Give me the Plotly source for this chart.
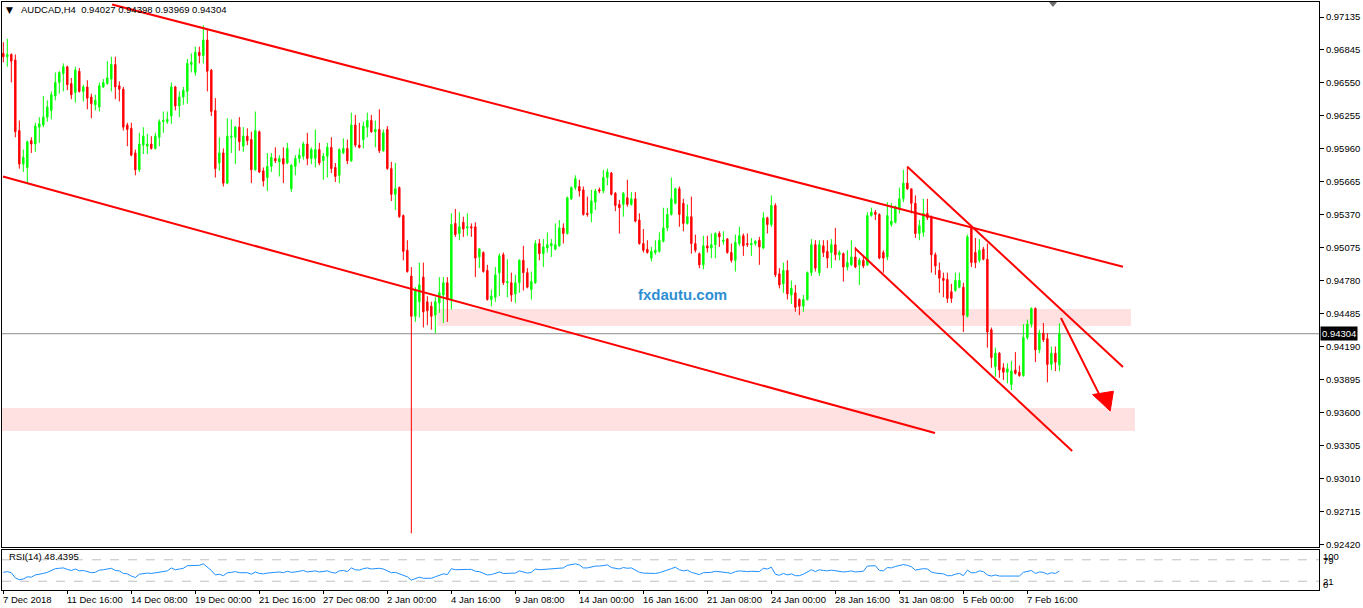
import plotly.graph_objects as go

# ---------------- data (prices in 1e-4 units) ----------------
OPEN = [
 9681, 9678, 9680, 9675, 9612, 9582, 9579, 9603, 9600, 9615,
 9617, 9624, 9630, 9643, 9655, 9663, 9669, 9654, 9646, 9665,
 9647, 9651, 9642, 9635, 9633, 9651, 9654, 9658, 9671, 9652,
 9649, 9617, 9614, 9592, 9577, 9599, 9598, 9600, 9596, 9606,
 9620, 9620, 9625, 9651, 9634, 9642, 9647, 9671, 9664, 9682,
 9679, 9693, 9666, 9630, 9583, 9592, 9565, 9606, 9606, 9615,
 9598, 9607, 9604, 9577, 9611, 9576, 9570, 9580, 9587, 9584,
 9587, 9583, 9560, 9580, 9587, 9589, 9600, 9587, 9587, 9595,
 9585, 9589, 9597, 9579, 9572, 9592, 9596, 9585, 9617, 9599,
 9604, 9615, 9621, 9611, 9613, 9594, 9613, 9578, 9555, 9561,
 9536, 9505, 9482, 9446, 9459, 9481, 9459, 9455, 9447, 9458,
 9465, 9476, 9461, 9529, 9520, 9530, 9525, 9526, 9526, 9499,
 9503, 9487, 9461, 9463, 9485, 9501, 9476, 9476, 9466, 9476,
 9496, 9485, 9470, 9476, 9511, 9502, 9507, 9509, 9506, 9509,
 9525, 9520, 9551, 9561, 9562, 9559, 9538, 9538, 9548, 9559,
 9558, 9570, 9574, 9556, 9546, 9546, 9552, 9546, 9551, 9532,
 9511, 9506, 9498, 9503, 9504, 9513, 9525, 9537, 9547, 9560,
 9547, 9529, 9535, 9511, 9502, 9492, 9509, 9507, 9510, 9520,
 9513, 9515, 9503, 9496, 9511, 9518, 9511, 9510, 9511, 9514,
 9507, 9534, 9528, 9545, 9484, 9475, 9487, 9465, 9467, 9461,
 9455, 9461, 9485, 9510, 9485, 9509, 9504, 9503, 9510, 9501,
 9502, 9490, 9492, 9499, 9492, 9496, 9492, 9536, 9539, 9537,
 9503, 9499, 9528, 9530, 9542, 9551, 9565, 9560, 9547, 9520,
 9521, 9538, 9535, 9501, 9487, 9480, 9479, 9468, 9469, 9472,
 9472, 9446, 9525, 9503, 9496, 9506, 9497, 9434, 9401, 9413,
 9400, 9396, 9385, 9398, 9396, 9393, 9427, 9439, 9453, 9416,
 9431, 9426, 9403, 9413, 9402.7]
HIGH = [
 9691, 9694, 9681, 9680, 9621, 9595, 9603, 9606, 9619, 9624,
 9643, 9639, 9647, 9664, 9665, 9672, 9670, 9659, 9669, 9668,
 9653, 9657, 9645, 9644, 9655, 9658, 9674, 9678, 9678, 9656,
 9651, 9619, 9619, 9595, 9610, 9615, 9609, 9607, 9610, 9622,
 9629, 9629, 9655, 9652, 9647, 9651, 9676, 9681, 9687, 9687,
 9706, 9702, 9667, 9641, 9606, 9596, 9623, 9622, 9616, 9624,
 9615, 9614, 9611, 9629, 9612, 9579, 9592, 9592, 9597, 9590,
 9597, 9601, 9582, 9590, 9596, 9602, 9610, 9597, 9613, 9601,
 9592, 9601, 9606, 9583, 9596, 9605, 9604, 9628, 9626, 9619,
 9620, 9628, 9626, 9621, 9631, 9613, 9616, 9584, 9583, 9562,
 9537, 9514, 9490, 9472, 9494, 9494, 9464, 9459, 9463, 9481,
 9481, 9481, 9538, 9542, 9539, 9535, 9538, 9529, 9530, 9507,
 9504, 9492, 9470, 9490, 9502, 9503, 9497, 9485, 9483, 9497,
 9509, 9489, 9486, 9514, 9515, 9515, 9521, 9515, 9529, 9532,
 9529, 9553, 9562, 9572, 9568, 9562, 9553, 9559, 9560, 9561,
 9577, 9578, 9575, 9557, 9550, 9557, 9568, 9557, 9557, 9538,
 9524, 9514, 9508, 9514, 9521, 9543, 9543, 9570, 9561, 9562,
 9551, 9546, 9553, 9519, 9503, 9518, 9518, 9520, 9521, 9522,
 9522, 9516, 9511, 9519, 9526, 9520, 9520, 9516, 9514, 9517,
 9539, 9535, 9554, 9547, 9489, 9494, 9496, 9478, 9474, 9462,
 9465, 9486, 9515, 9514, 9514, 9514, 9514, 9515, 9525, 9505,
 9503, 9505, 9514, 9508, 9498, 9500, 9539, 9543, 9541, 9538,
 9505, 9548, 9547, 9545, 9561, 9577, 9580, 9560, 9554, 9532,
 9551, 9551, 9536, 9503, 9494, 9485, 9485, 9475, 9485, 9485,
 9476, 9519, 9526, 9516, 9515, 9508, 9511, 9436, 9418, 9414,
 9404, 9404, 9406, 9414, 9402, 9439, 9443, 9454, 9454, 9434,
 9440, 9431, 9419, 9419, 9439.8]
LOW = [
 9673, 9669, 9655, 9606, 9578, 9575, 9565, 9592, 9593, 9601,
 9615, 9620, 9622, 9639, 9645, 9647, 9648, 9640, 9637, 9646,
 9638, 9631, 9623, 9630, 9629, 9650, 9653, 9647, 9640, 9638,
 9612, 9598, 9589, 9572, 9575, 9591, 9591, 9595, 9595, 9598,
 9610, 9618, 9618, 9630, 9624, 9635, 9636, 9664, 9661, 9672,
 9672, 9647, 9625, 9570, 9576, 9562, 9564, 9592, 9582, 9594,
 9593, 9599, 9565, 9576, 9574, 9562, 9558, 9575, 9583, 9571,
 9565, 9582, 9557, 9572, 9583, 9586, 9581, 9582, 9579, 9581,
 9568, 9570, 9574, 9566, 9565, 9591, 9582, 9584, 9597, 9596,
 9596, 9606, 9610, 9597, 9592, 9593, 9577, 9549, 9541, 9534,
 9496, 9485, 9252, 9441, 9445, 9436, 9438, 9434, 9431, 9449,
 9440, 9441, 9452, 9517, 9514, 9517, 9518, 9517, 9481, 9489,
 9485, 9460, 9455, 9459, 9464, 9474, 9463, 9459, 9458, 9467,
 9469, 9471, 9461, 9475, 9496, 9490, 9503, 9499, 9505, 9508,
 9511, 9519, 9550, 9559, 9553, 9536, 9535, 9530, 9541, 9556,
 9556, 9563, 9554, 9540, 9520, 9535, 9544, 9545, 9530, 9510,
 9503, 9502, 9495, 9501, 9503, 9512, 9522, 9536, 9546, 9526,
 9522, 9528, 9502, 9503, 9489, 9488, 9503, 9498, 9498, 9508,
 9510, 9502, 9494, 9486, 9509, 9500, 9508, 9500, 9509, 9492,
 9506, 9520, 9526, 9481, 9471, 9467, 9461, 9457, 9450, 9447,
 9450, 9460, 9482, 9486, 9482, 9499, 9489, 9489, 9496, 9496,
 9477, 9487, 9491, 9489, 9474, 9489, 9491, 9535, 9532, 9497,
 9485, 9496, 9526, 9529, 9538, 9548, 9559, 9538, 9516, 9514,
 9517, 9532, 9485, 9483, 9467, 9463, 9458, 9458, 9468, 9471,
 9432, 9445, 9490, 9489, 9494, 9496, 9418, 9400, 9392, 9391,
 9389, 9386, 9380, 9394, 9392, 9392, 9425, 9436, 9405, 9413,
 9423, 9387, 9398, 9397, 9396.9]
CLOSE = [
 9678, 9680, 9674, 9611, 9582, 9588, 9602, 9600, 9616, 9618,
 9624, 9633, 9644, 9655, 9664, 9669, 9653, 9644, 9666, 9647,
 9651, 9641, 9636, 9639, 9652, 9655, 9659, 9671, 9651, 9649,
 9615, 9613, 9590, 9577, 9600, 9607, 9600, 9596, 9607, 9620,
 9621, 9622, 9651, 9634, 9642, 9648, 9672, 9673, 9682, 9679,
 9693, 9665, 9629, 9578, 9592, 9565, 9607, 9607, 9615, 9602,
 9607, 9603, 9577, 9612, 9575, 9567, 9580, 9588, 9585, 9587,
 9582, 9596, 9581, 9587, 9590, 9600, 9587, 9595, 9595, 9583,
 9589, 9597, 9578, 9571, 9595, 9596, 9585, 9617, 9599, 9597,
 9616, 9621, 9611, 9613, 9594, 9610, 9578, 9555, 9560, 9535,
 9504, 9486, 9446, 9470, 9474, 9450, 9451, 9446, 9459, 9467,
 9476, 9461, 9528, 9519, 9526, 9524, 9526, 9525, 9498, 9506,
 9486, 9461, 9464, 9483, 9500, 9476, 9477, 9465, 9476, 9496,
 9485, 9472, 9477, 9511, 9502, 9508, 9510, 9511, 9510, 9525,
 9520, 9552, 9561, 9569, 9558, 9537, 9537, 9549, 9558, 9558,
 9570, 9575, 9555, 9545, 9543, 9556, 9546, 9551, 9531, 9511,
 9505, 9503, 9504, 9505, 9514, 9525, 9537, 9551, 9560, 9537,
 9529, 9535, 9511, 9505, 9492, 9509, 9507, 9510, 9520, 9517,
 9514, 9503, 9496, 9512, 9518, 9509, 9510, 9511, 9513, 9508,
 9534, 9528, 9545, 9483, 9474, 9487, 9466, 9471, 9454, 9455,
 9461, 9485, 9510, 9489, 9510, 9503, 9498, 9510, 9501, 9503,
 9490, 9494, 9499, 9490, 9496, 9491, 9536, 9539, 9537, 9498,
 9498, 9536, 9531, 9544, 9551, 9565, 9560, 9547, 9520, 9527,
 9538, 9534, 9501, 9491, 9480, 9478, 9462, 9462, 9478, 9478,
 9447, 9517, 9494, 9494, 9505, 9497, 9432, 9409, 9413, 9398,
 9396, 9399, 9397, 9395, 9393, 9427, 9439, 9453, 9416, 9431,
 9425, 9403, 9413, 9405, 9430.4]
RSI = [
 45, 47, 44, 30, 25, 27, 33, 32, 38, 39,
 42, 45, 50, 55, 56, 57, 53, 50, 54, 49,
 50, 46, 44, 45, 51, 52, 54, 56, 50, 49,
 42, 41, 35, 31, 40, 42, 43, 42, 44, 47,
 48, 49, 57, 52, 54, 56, 63, 64, 65, 64,
 68, 60, 50, 38, 40, 36, 44, 45, 47, 44,
 45, 44, 40, 46, 42, 41, 43, 45, 45, 46,
 44, 48, 45, 46, 47, 50, 46, 48, 49, 46,
 47, 49, 45, 43, 49, 50, 47, 57, 52, 51,
 55, 57, 54, 55, 56, 54, 48, 44, 45, 41,
 36, 33, 24, 28, 32, 29, 30, 29, 33, 38,
 41, 39, 55, 52, 53, 52, 53, 53, 48, 47,
 42, 38, 39, 43, 46, 42, 42, 41, 43, 49,
 46, 43, 45, 54, 52, 53, 54, 55, 55, 58,
 57, 64, 66, 68, 65, 57, 57, 60, 62, 62,
 64, 65, 58, 55, 54, 58, 56, 57, 52, 45,
 43, 42, 41, 42, 44, 47, 50, 55, 59, 52,
 49, 51, 45, 42, 39, 44, 44, 45, 48, 47,
 47, 44, 42, 47, 49, 47, 47, 48, 48, 47,
 56, 54, 59, 40, 37, 42, 38, 41, 36, 36,
 40, 46, 52, 47, 52, 50, 49, 51, 49, 49,
 46, 47, 49, 46, 48, 48, 62, 63, 63, 50,
 49, 58, 57, 61, 63, 66, 64, 60, 51, 53,
 55, 54, 46, 43, 41, 41, 36, 36, 40, 42,
 36, 51, 44, 44, 49, 47, 38, 35, 38, 35,
 35, 35, 37, 35, 35, 45, 48, 50, 42, 46,
 45, 40, 44, 42, 48.4395]
DATE_LABELS = ["7 Dec 2018", "11 Dec 16:00", "14 Dec 08:00", "19 Dec 00:00",
               "21 Dec 16:00", "27 Dec 08:00", "2 Jan 00:00", "4 Jan 16:00",
               "9 Jan 08:00", "14 Jan 00:00", "16 Jan 16:00", "21 Jan 08:00",
               "24 Jan 00:00", "28 Jan 16:00", "31 Jan 08:00", "5 Feb 00:00",
               "7 Feb 16:00"]
DATE_STEP = 16
PRICE_TICKS = [0.97135, 0.96845, 0.96550, 0.96255, 0.95960, 0.95665, 0.95370,
               0.95075, 0.94780, 0.94485, 0.94190, 0.93895, 0.93600, 0.93305,
               0.93010, 0.92715, 0.92420]
RSI_LEVELS = [79, 21]
LAST_PRICE = 0.94304
SYMBOL = "AUDCAD,H4"
# drawing objects: (bar index, price)
TRENDLINES = [((27.2, 0.97246), (279.9, 0.94903)),
              ((-0.1, 0.95709), (232.9, 0.93417)),
              ((226.0, 0.95797), (279.9, 0.94007)),
              ((212.9, 0.95068), (267.2, 0.93256))]
ZONES = [((108.5, 0.94525), (281.9, 0.94373)),
         ((-0.3, 0.93640), (282.9, 0.93435))]
ARROW_LINE = ((264.4, 0.94445), (274.0, 0.93760))
ARROW_HEAD = [(272.3, 0.93760), (277.5, 0.93790), (276.7, 0.93613)]

SCALE = 10000.0
o = [v / SCALE for v in OPEN]
h = [v / SCALE for v in HIGH]
l = [v / SCALE for v in LOW]
c = [v / SCALE for v in CLOSE]
xs = list(range(len(OPEN)))

FONT = "Liberation Sans, Arial, sans-serif"
FS = 9.5
XR = [-0.33, 328.9]

fig = go.Figure()
fig.add_trace(go.Candlestick(
    x=xs, open=o, high=h, low=l, close=c, xaxis="x", yaxis="y",
    increasing=dict(line=dict(color="#00FF00", width=1), fillcolor="#00FF00"),
    decreasing=dict(line=dict(color="#FF0000", width=1), fillcolor="#FF0000"),
    whiskerwidth=0, hoverinfo="skip", showlegend=False))
fig.add_trace(go.Scatter(x=xs, y=RSI, mode="lines", xaxis="x2", yaxis="y2",
                         line=dict(color="#1E90FF", width=1), hoverinfo="skip",
                         showlegend=False))

shapes = []
for (a, b) in ZONES:
    shapes.append(dict(type="rect", xref="x", yref="y", x0=a[0], x1=b[0], y0=a[1], y1=b[1],
                       fillcolor="#FFE1E1", line=dict(width=0), layer="below"))
shapes.append(dict(type="line", xref="x domain", yref="y", x0=0, x1=1,
                   y0=LAST_PRICE, y1=LAST_PRICE, line=dict(color="#8C8C8C", width=1), layer="below"))
for (a, b) in TRENDLINES:
    shapes.append(dict(type="line", xref="x", yref="y", x0=a[0], y0=a[1], x1=b[0], y1=b[1],
                       line=dict(color="#FF0000", width=2), layer="above"))
shapes.append(dict(type="line", xref="x", yref="y", x0=ARROW_LINE[0][0], y0=ARROW_LINE[0][1],
                   x1=ARROW_LINE[1][0], y1=ARROW_LINE[1][1], line=dict(color="#FF0000", width=2)))
path = "M " + " L ".join(f"{px},{py}" for px, py in ARROW_HEAD) + " Z"
shapes.append(dict(type="path", xref="x", yref="y", path=path, fillcolor="#FF0000",
                   line=dict(color="#FF0000", width=1)))
for lv in RSI_LEVELS:
    shapes.append(dict(type="line", xref="x2 domain", yref="y2", x0=0, x1=1, y0=lv, y1=lv,
                       line=dict(color="#C0C0C0", width=1, dash="dash"), layer="below"))
# chart-shift marker at the top
shapes.append(dict(type="path", xref="paper", yref="paper",
                   path="M 0.7950,1.0 L 0.8011,1.0 L 0.7980,0.9915 Z",
                   fillcolor="#6E6E6E", line=dict(width=0)))

ann = []
ann.append(dict(xref="paper", yref="paper", x=0.0055, y=0.9860, text="▼", showarrow=False,
                font=dict(size=9, color="black", family="DejaVu Sans"), xanchor="center", yanchor="middle"))
title = SYMBOL + "\u00a0\u00a0" + " ".join(f"{v:.5f}" for v in (o[-1], h[-1], l[-1], c[-1]))
ann.append(dict(xref="paper", yref="paper", x=0.0129, y=0.9872, text=title, showarrow=False,
                font=dict(size=FS, color="black", family=FONT), xanchor="left", yanchor="middle"))
ann.append(dict(xref="x", yref="y", x=169.9, y=0.94659, text="<b>fxdautu.com</b>", showarrow=False,
                font=dict(size=15, color="#2E8FD3", family=FONT), xanchor="center", yanchor="middle"))
ann.append(dict(xref="paper", yref="y", x=1, y=LAST_PRICE, text=f"{LAST_PRICE:.5f}", showarrow=False,
                font=dict(size=FS, color="white", family=FONT), bgcolor="black", borderpad=1,
                xanchor="left", yanchor="middle", xshift=1))
ann.append(dict(xref="paper", yref="y2", x=0.0035, y=88, text=f"RSI(14) {RSI[-1]:.4f}", showarrow=False,
                font=dict(size=FS, color="black", family=FONT), xanchor="left", yanchor="middle"))
for txt, val in (("100", 89), ("79", 77.5), ("21", 21.6), ("0", 11)):
    ann.append(dict(xref="paper", yref="y2", x=1, y=val, text=txt, showarrow=False,
                    font=dict(size=FS, color="black", family=FONT), xanchor="left",
                    yanchor="middle", xshift=2))
tickpos = [i * DATE_STEP for i in range(len(DATE_LABELS))]
for pos, txt in zip(tickpos, DATE_LABELS):
    ann.append(dict(xref="x2", yref="paper", x=pos, y=0, text=txt, showarrow=False,
                    font=dict(size=FS, color="black", family=FONT), xanchor="left",
                    yanchor="top", xshift=-2, yshift=-2))

axis_common = dict(showgrid=False, zeroline=False, showline=True, linecolor="black",
                   linewidth=1, mirror=True)
fig.update_layout(
    width=1363, height=608, autosize=False,
    margin=dict(l=2, r=44, t=2, b=18, pad=0),
    paper_bgcolor="white", plot_bgcolor="white",
    font=dict(family=FONT, size=FS, color="black"),
    showlegend=False, boxgap=0.5, hovermode=False,
    xaxis=dict(domain=[0, 1], anchor="y", range=XR, showticklabels=False, ticks="",
               rangeslider=dict(visible=False), **axis_common),
    yaxis=dict(domain=[0.07313, 1], anchor="x", side="right", range=[0.923978, 0.972691],
               tickvals=PRICE_TICKS, ticktext=[f"{v:.5f}" for v in PRICE_TICKS],
               ticks="outside", ticklen=4, tickcolor="black",
               tickfont=dict(size=FS, color="black", family=FONT), **axis_common),
    xaxis2=dict(domain=[0, 1], anchor="y2", range=XR, matches="x", tickvals=tickpos,
                ticks="outside", ticklen=3, tickcolor="black", showticklabels=False,
                **axis_common),
    yaxis2=dict(domain=[0, 0.06803], anchor="x2", side="right", range=[-2.7, 105.4],
                showticklabels=False, ticks="", **axis_common),
    shapes=shapes, annotations=ann,
)
fig.write_html("out.html", config={"displayModeBar": False},
               post_script="document.body.style.margin='0';document.body.style.padding='0';"
                           "document.body.style.overflow='hidden';")
